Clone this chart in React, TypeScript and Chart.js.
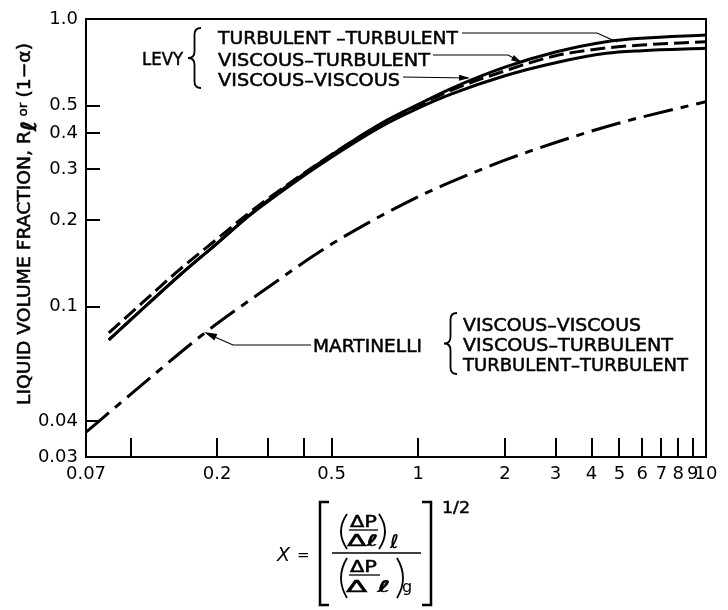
import React, { useEffect, useRef } from "react";
import { Chart, registerables } from "chart.js";

Chart.register(...registerables);

// ---- data ----
const levyX = [0.084, 0.1, 0.15, 0.2, 0.26, 0.3, 0.45, 0.75, 1.0, 1.3, 2, 3, 4.5, 6, 10];
const levyTurbTurb = [0.0766, 0.0899, 0.13, 0.166, 0.209, 0.234, 0.314, 0.436, 0.505, 0.573, 0.68, 0.768, 0.834, 0.858, 0.88];
const levyViscTurb = [0.081, 0.0948, 0.136, 0.172, 0.213, 0.237, 0.315, 0.434, 0.5, 0.565, 0.66, 0.745, 0.793, 0.812, 0.834];
const levyViscVisc = [0.0766, 0.0899, 0.13, 0.166, 0.208, 0.232, 0.309, 0.425, 0.49, 0.548, 0.635, 0.705, 0.76, 0.776, 0.791];
const martX = [0.07, 0.1, 0.184, 0.28, 0.5, 1, 1.5, 2, 3, 5, 10];
const martY = [0.0366, 0.0495, 0.082, 0.111, 0.165, 0.241, 0.288, 0.323, 0.372, 0.435, 0.516];

const xTickValues = [0.07, 0.1, 0.2, 0.3, 0.4, 0.5, 1, 2, 3, 4, 5, 6, 7, 8, 9, 10];
const xTickLabels = ["0.07", "", "0.2", "", "", "0.5", "1", "2", "3", "4", "5", "6", "7", "8", "9", "10"];
const yTickValues = [0.03, 0.04, 0.1, 0.2, 0.3, 0.4, 0.5, 1];
const yTickLabels = ["0.03", "0.04", "0.1", "0.2", "0.3", "0.4", "0.5", "1.0"];

const levyLabels = ["TURBULENT \u2013TURBULENT", "VISCOUS\u2013TURBULENT", "VISCOUS\u2013VISCOUS"];
const martLabels = ["VISCOUS\u2013VISCOUS", "VISCOUS\u2013TURBULENT", "TURBULENT\u2013TURBULENT"];

const FONT = "'DejaVu Sans', sans-serif";

function fitText(ctx: CanvasRenderingContext2D, s: string, x: number, yc: number, width: number, size: number, style = "") {
  ctx.save();
  ctx.font = `${style} ${size}px ${FONT}`;
  ctx.textAlign = "left";
  ctx.textBaseline = "alphabetic";
  const w = ctx.measureText(s).width;
  ctx.translate(x, yc + size * 0.365);
  ctx.scale(width / w, 1);
  ctx.fillText(s, 0, 0);
  ctx.lineWidth = 0.5;
  ctx.strokeText(s, 0, 0);
  ctx.restore();
}

function poly(ctx: CanvasRenderingContext2D, pts: number[][], lw: number) {
  ctx.lineWidth = lw;
  ctx.beginPath();
  ctx.moveTo(pts[0][0], pts[0][1]);
  for (let i = 1; i < pts.length; i++) ctx.lineTo(pts[i][0], pts[i][1]);
  ctx.stroke();
}

function arrowHead(ctx: CanvasRenderingContext2D, from: number[], to: number[], len = 11, half = 3) {
  const a = Math.atan2(to[1] - from[1], to[0] - from[0]);
  ctx.beginPath();
  ctx.moveTo(to[0], to[1]);
  ctx.lineTo(to[0] - len * Math.cos(a) + half * Math.sin(a), to[1] - len * Math.sin(a) - half * Math.cos(a));
  ctx.lineTo(to[0] - len * Math.cos(a) - half * Math.sin(a), to[1] - len * Math.sin(a) + half * Math.cos(a));
  ctx.closePath();
  ctx.fill();
}

function brace(ctx: CanvasRenderingContext2D, x: number, yTop: number, yBot: number, w: number) {
  const mid = (yTop + yBot) / 2;
  const xm = x + w / 2;
  const r = w / 2;
  ctx.lineWidth = 1.8;
  ctx.beginPath();
  ctx.moveTo(x + w, yTop);
  ctx.quadraticCurveTo(xm, yTop, xm, yTop + r);
  ctx.lineTo(xm, mid - r);
  ctx.quadraticCurveTo(xm, mid, x, mid);
  ctx.quadraticCurveTo(xm, mid, xm, mid + r);
  ctx.lineTo(xm, yBot - r);
  ctx.quadraticCurveTo(xm, yBot, x + w, yBot);
  ctx.stroke();
}

function paren(ctx: CanvasRenderingContext2D, x: number, yTop: number, yBot: number, dir: number) {
  ctx.lineWidth = 1.8;
  ctx.beginPath();
  ctx.moveTo(x, yTop);
  ctx.quadraticCurveTo(x - dir * 12, (yTop + yBot) / 2, x, yBot);
  ctx.stroke();
}

const annotate = {
  id: "annotate",
  afterDraw(chart: any) {
    const ctx: CanvasRenderingContext2D = chart.ctx;
    const ca = chart.chartArea;
    const xs = chart.scales.x;
    const ys = chart.scales.y;
    const dx = ca.left - 86;
    const dy = ca.top - 19;
    const by = ca.bottom - 457;
    const P = (x: number, y: number) => [x + dx, y + dy];
    ctx.save();
    ctx.strokeStyle = "#000";
    ctx.fillStyle = "#000";
    ctx.lineCap = "butt";

    // frame
    ctx.lineWidth = 2;
    ctx.strokeRect(ca.left, ca.top, ca.right - ca.left, ca.bottom - ca.top);

    // inward ticks
    ctx.lineWidth = 2;
    xTickValues.forEach((v) => {
      if (v <= 0.07 || v >= 10) return;
      const px = Math.round(xs.getPixelForValue(v));
      ctx.beginPath();
      ctx.moveTo(px, ca.bottom);
      ctx.lineTo(px, ca.bottom - 19);
      ctx.stroke();
    });
    yTickValues.forEach((v) => {
      if (v <= 0.03 || v >= 1) return;
      const py = Math.round(ys.getPixelForValue(v));
      ctx.beginPath();
      ctx.moveTo(ca.left, py);
      ctx.lineTo(ca.left + 14, py);
      ctx.stroke();
    });

    // LEVY group
    const [lx, ly] = P(142, 58.5);
    fitText(ctx, "LEVY", lx, ly, 41, 18);
    const b1 = P(188, 28);
    const b2 = P(188, 88);
    brace(ctx, b1[0], b1[1], b2[1], 13);
    const levyY = [37.5, 59, 79];
    const levyW = [240, 212, 182];
    levyLabels.forEach((s, i) => {
      const [tx, ty] = P(218, levyY[i]);
      fitText(ctx, s, tx, ty, levyW[i], 18);
    });
    // leaders
    poly(ctx, [P(462, 33), P(597, 33), P(617, 42)], 1.2);
    poly(ctx, [P(433, 55), P(508, 55), P(521, 62)], 1.2);
    arrowHead(ctx, P(508, 55), P(522, 63));
    poly(ctx, [P(403, 77), P(468, 78)], 1.2);
    arrowHead(ctx, P(440, 77), P(470, 78));

    // MARTINELLI group
    const [mx, my] = P(313, 345);
    fitText(ctx, "MARTINELLI", mx, my, 109, 18);
    const m1 = P(444, 313);
    const m2 = P(444, 374);
    brace(ctx, m1[0], m1[1], m2[1], 13);
    const martYc = [324, 344, 364.5];
    const martW = [178, 210, 225];
    martLabels.forEach((s, i) => {
      const [tx, ty] = P(463, martYc[i]);
      fitText(ctx, s, tx, ty, martW[i], 18);
    });
    poly(ctx, [P(311, 345), P(233, 345), P(208, 334)], 1.2);
    arrowHead(ctx, P(233, 345), P(204, 332), 13, 3.5);

    // Y axis title (rotated)
    ctx.save();
    ctx.translate(29.5 + dx, 405 + dy);
    ctx.rotate(-Math.PI / 2);
    ctx.textBaseline = "alphabetic";
    ctx.textAlign = "left";
    ctx.lineWidth = 0.5;
    const parts = [
      { s: "LIQUID VOLUME FRACTION, R", f: `18px ${FONT}`, off: 0, gap: 0 },
      { s: "\u2113", f: `italic bold 21px ${FONT}`, off: 6, gap: 4 },
      { s: "or", f: `13px ${FONT}`, off: -3, gap: 5 },
      { s: "(1\u2212\u03b1)", f: `18px ${FONT}`, off: 0, gap: 0 },
    ];
    let total = 0;
    parts.forEach((p) => {
      ctx.font = p.f;
      total += ctx.measureText(p.s).width + p.gap;
    });
    ctx.scale(362 / total, 1);
    let pos = 0;
    parts.forEach((p) => {
      ctx.font = p.f;
      ctx.fillText(p.s, pos, p.off);
      ctx.strokeText(p.s, pos, p.off);
      pos += ctx.measureText(p.s).width + p.gap;
    });
    ctx.restore();

    // X axis formula
    const F = (x: number, y: number) => [x + dx, y + by];
    ctx.textBaseline = "alphabetic";
    ctx.textAlign = "left";
    ctx.font = `italic 19px ${FONT}`;
    let q = F(277, 561);
    ctx.fillText("X", q[0], q[1]);
    ctx.font = `15px ${FONT}`;
    q = F(297, 560);
    ctx.fillText("=", q[0], q[1]);
    // brackets
    poly(ctx, [F(329, 502), F(320, 502), F(320, 605), F(329, 605)], 2.5);
    poly(ctx, [F(422, 502), F(431, 502), F(431, 605), F(422, 605)], 2.5);
    q = F(442, 513);
    fitText(ctx, "1/2", q[0], q[1] - 5.5, 28, 15);
    // main fraction bar
    poly(ctx, [F(332, 553), F(421, 553)], 1.5);
    // numerator
    let a = F(347, 514), b = F(347, 549);
    paren(ctx, a[0], a[1], b[1], 1);
    a = F(379, 514); b = F(379, 549);
    paren(ctx, a[0], a[1], b[1], -1);
    q = F(350, 521);
    fitText(ctx, "\u0394P", q[0], q[1], 27, 16);
    poly(ctx, [F(349, 530), F(378, 530)], 1.3);
    q = F(347, 540);
    fitText(ctx, "\u0394\u2113", q[0], q[1], 31, 16);
    ctx.font = `italic bold 19px ${FONT}`;
    q = F(390, 548);
    ctx.fillText("\u2113", q[0], q[1]);
    // denominator
    a = F(347, 558); b = F(347, 598);
    paren(ctx, a[0], a[1], b[1], 1);
    a = F(397, 558); b = F(397, 598);
    paren(ctx, a[0], a[1], b[1], -1);
    q = F(350, 566);
    fitText(ctx, "\u0394P", q[0], q[1], 27, 16);
    poly(ctx, [F(349, 575), F(380, 575)], 1.3);
    q = F(346, 586);
    fitText(ctx, "\u0394 \u2113", q[0], q[1], 44, 16);
    ctx.font = `16px ${FONT}`;
    q = F(402, 592);
    ctx.fillText("g", q[0], q[1]);

    ctx.restore();
  },
};

export default function App() {
  const ref = useRef<HTMLCanvasElement | null>(null);
  useEffect(() => {
    if (!ref.current) return;
    const mk = (xsArr: number[], ysArr: number[]) => xsArr.map((x, i) => ({ x, y: ysArr[i] }));
    const base = {
      borderColor: "#000",
      borderWidth: 3,
      pointRadius: 0,
      fill: false,
      cubicInterpolationMode: "monotone" as const,
    };
    const chart = new Chart(ref.current, {
      type: "line",
      data: {
        datasets: [
          { ...base, label: "Levy turbulent-turbulent", data: mk(levyX, levyTurbTurb) },
          { ...base, label: "Levy viscous-turbulent", data: mk(levyX, levyViscTurb), borderDash: [15, 6] },
          { ...base, label: "Levy viscous-viscous", data: mk(levyX, levyViscVisc) },
          { ...base, label: "Martinelli", data: mk(martX, martY), borderDash: [30, 8, 8, 8] },
        ],
      },
      options: {
        animation: false,
        responsive: false,
        maintainAspectRatio: false,
        layout: { padding: { top: 19, right: 22, left: 0, bottom: 0 } },
        plugins: { legend: { display: false }, tooltip: { enabled: false } },
        scales: {
          x: {
            type: "logarithmic",
            min: 0.07,
            max: 10,
            bounds: "data",
            afterBuildTicks: (s: any) => {
              s.ticks = xTickValues.map((v) => ({ value: v }));
            },
            afterFit: (s: any) => {
              s.height = 153;
            },
            ticks: {
              autoSkip: false,
              maxRotation: 0,
              minRotation: 0,
              padding: 7,
              color: "#000",
              font: { family: FONT, size: 18 },
              callback: (v: any) => xTickLabels[xTickValues.indexOf(Number(v))] ?? "",
            },
            grid: { display: false, drawTicks: false },
            border: { display: false },
          },
          y: {
            type: "logarithmic",
            min: 0.03,
            max: 1,
            bounds: "data",
            afterBuildTicks: (s: any) => {
              s.ticks = yTickValues.map((v) => ({ value: v }));
            },
            afterFit: (s: any) => {
              s.width = 86;
            },
            ticks: {
              autoSkip: false,
              padding: 8,
              color: "#000",
              font: { family: FONT, size: 18 },
              callback: (v: any) => yTickLabels[yTickValues.indexOf(Number(v))] ?? "",
            },
            grid: { display: false, drawTicks: false },
            border: { display: false },
          },
        },
      },
      plugins: [annotate],
    } as any);
    return () => chart.destroy();
  }, []);
  return (
    <div style={{ position: "absolute", left: 0, top: 0, width: 728, height: 610, background: "#fff" }}>
      <canvas ref={ref} width={728} height={610} style={{ width: 728, height: 610, display: "block" }} />
    </div>
  );
}
